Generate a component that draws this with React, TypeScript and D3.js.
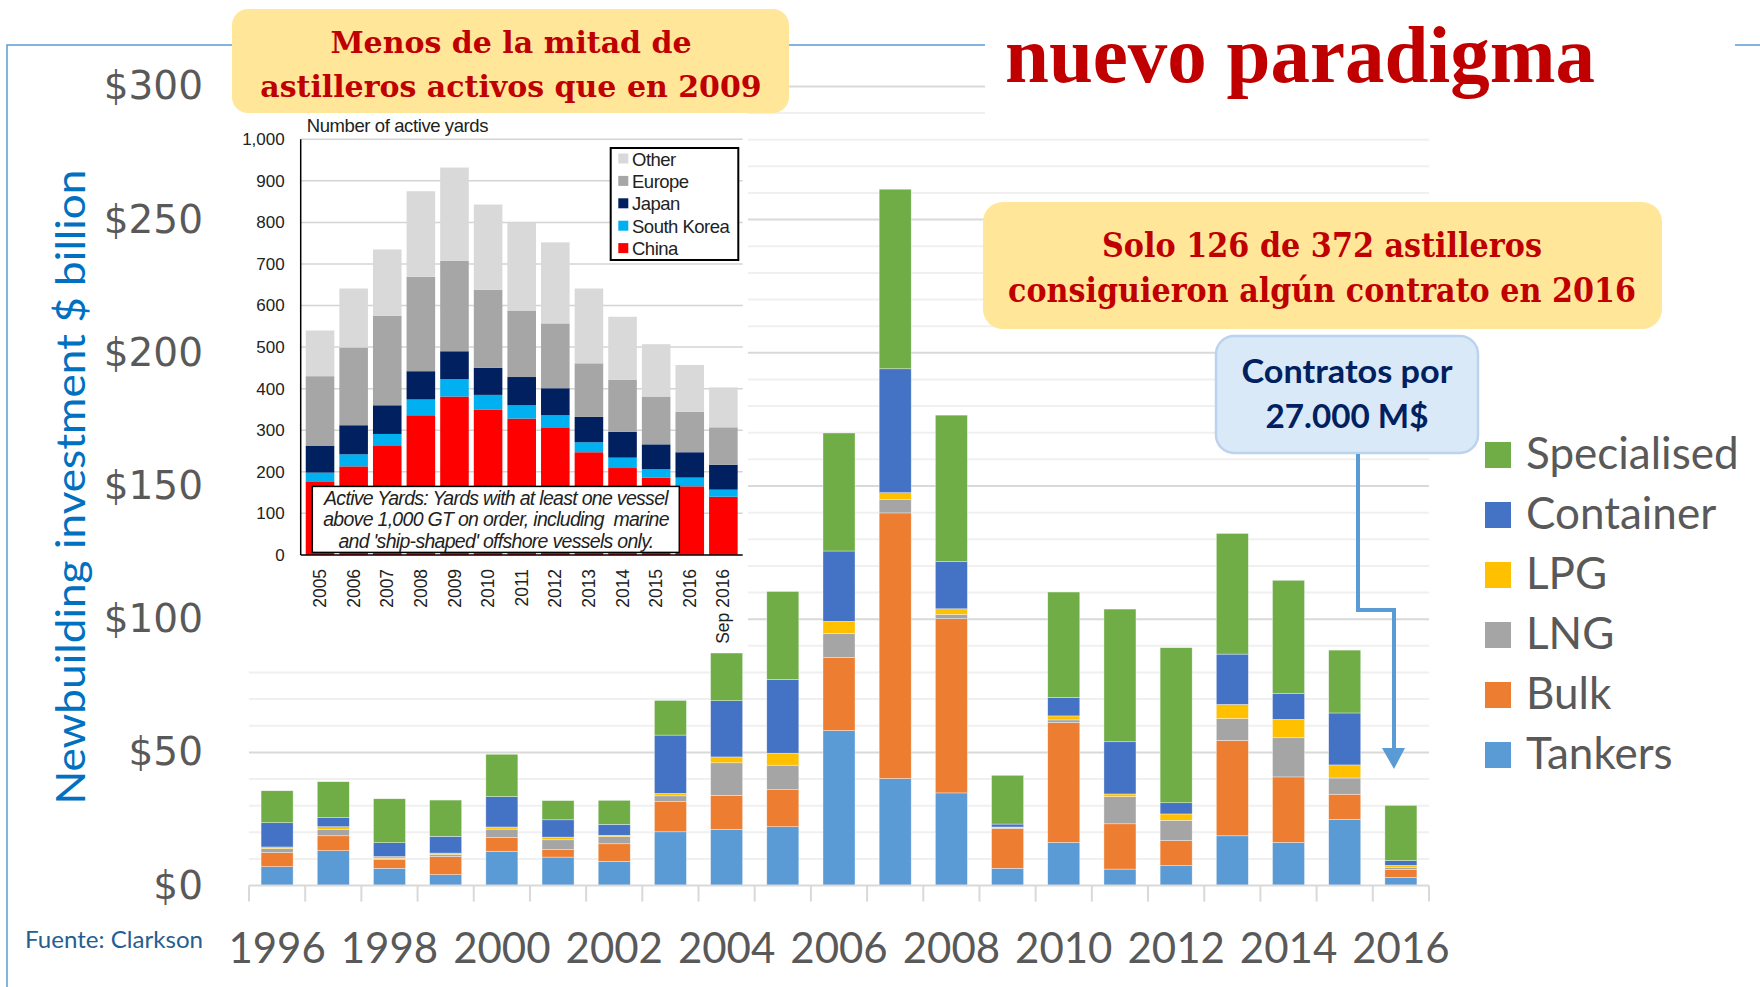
import React, { useEffect, useRef } from "react";
import * as d3 from "d3";

// main chart: newbuilding investment, $ billion
const years = ["1996", "1997", "1998", "1999", "2000", "2001", "2002", "2003", "2004", "2005", "2006",
    "2007", "2008", "2009", "2010", "2011", "2012", "2013", "2014", "2015", "2016"];
const tankers = [7.1, 13.1, 6.5, 4.1, 12.9, 10.7, 9.1, 20.2, 21.1, 22.1, 58.2, 40.2, 34.8, 6.5, 16.2, 6.2, 7.5, 18.7, 16.2, 24.9, 3.1];
const bulk = [5.3, 5.6, 3.4, 6.8, 5.1, 2.8, 6.6, 11.3, 12.8, 13.9, 27.4, 99.7, 65.4, 15.0, 45.0, 17.0, 9.4, 35.8, 24.6, 9.4, 2.9];
const lng = [1.5, 2.3, 0.3, 0.8, 3.2, 3.7, 2.7, 2.2, 12.2, 9.2, 9.0, 5.0, 1.6, 0.2, 1.0, 10.2, 7.6, 8.2, 14.7, 6.1, 0.9];
const lpg = [0.6, 1.1, 0.7, 0.5, 0.8, 1.0, 0.5, 0.9, 2.2, 4.5, 4.6, 2.6, 2.1, 0.3, 1.5, 1.0, 2.4, 5.3, 6.9, 4.9, 0.7];
const container = [9.1, 3.4, 5.2, 6.3, 11.4, 6.5, 4.1, 21.9, 21.1, 27.7, 26.4, 46.5, 17.7, 1.1, 6.9, 19.6, 4.2, 18.9, 9.8, 19.5, 1.8];
const specialised = [12.0, 13.5, 16.5, 13.6, 15.9, 7.2, 9.0, 13.0, 17.9, 33.0, 44.3, 67.4, 55.0, 18.3, 39.6, 49.8, 58.2, 45.3, 42.4, 23.6, 20.7];
const yTicks = [0, 50, 100, 150, 200, 250, 300];

// inset: number of active yards
const insetYears = ["2005", "2006", "2007", "2008", "2009", "2010", "2011", "2012", "2013", "2014", "2015", "2016", "Sep 2016"];
const china = [177, 213, 262, 336, 381, 349, 328, 307, 247, 209, 186, 165, 140];
const southKorea = [21, 29, 29, 38, 42, 36, 32, 29, 24, 25, 20, 21, 17];
const japan = [65, 70, 69, 68, 67, 65, 68, 65, 61, 62, 60, 61, 60];
const europe = [167, 187, 215, 227, 218, 188, 160, 156, 129, 125, 115, 97, 90];
const other = [110, 142, 160, 206, 224, 205, 211, 195, 180, 152, 126, 113, 96];
const insetTicks = [0, 100, 200, 300, 400, 500, 600, 700, 800, 900, 1000];

const mainSeries = [
    { key: "tankers", label: "Tankers", color: "#5B9BD5", values: tankers },
    { key: "bulk", label: "Bulk", color: "#ED7D31", values: bulk },
    { key: "lng", label: "LNG", color: "#A5A5A5", values: lng },
    { key: "lpg", label: "LPG", color: "#FFC000", values: lpg },
    { key: "container", label: "Container", color: "#4472C4", values: container },
    { key: "specialised", label: "Specialised", color: "#70AD47", values: specialised },
];

const insetSeries = [
    { key: "china", label: "China", color: "#FF0000", values: china },
    { key: "southKorea", label: "South Korea", color: "#00B0F0", values: southKorea },
    { key: "japan", label: "Japan", color: "#002060", values: japan },
    { key: "europe", label: "Europe", color: "#A6A6A6", values: europe },
    { key: "other", label: "Other", color: "#D9D9D9", values: other },
];

const SANS = "Lato, 'Open Sans', sans-serif";
const ARIAL = "'Liberation Sans', Arial, sans-serif";
const SERIF = "'DejaVu Serif', serif";

const App: React.FC = () => {
    const svgRef = useRef<SVGSVGElement>(null);

    useEffect(() => {
        if (!svgRef.current) return;
        const svg = d3.select(svgRef.current);
        svg.selectAll("*").remove();

        // slide frame line
        svg.append("path")
            .attr("d", "M7,987V45H1760")
            .attr("fill", "none")
            .attr("stroke", "#5B9BD5")
            .attr("stroke-width", 1.5);

        const left = 249, right = 1429;
        const x = d3.scaleBand<string>().domain(years).range([left, right]).paddingInner(0.43).paddingOuter(0.215);
        const y = d3.scaleLinear().domain([0, 300]).range([885.6, 86.4]);

        // gridlines every $10, darker every $50
        svg.append("g")
            .selectAll("line")
            .data(y.ticks(30).filter(d => d > 0))
            .join("line")
            .attr("x1", left).attr("x2", right)
            .attr("y1", d => y(d)).attr("y2", d => y(d))
            .attr("stroke", d => d % 50 === 0 ? "#D9D9D9" : "#F0F0F0")
            .attr("stroke-width", 2);

        const rows = years.map((yr, i) => {
            const r: any = { year: yr };
            mainSeries.forEach(s => { r[s.key] = s.values[i]; });
            return r;
        });
        const stacked = d3.stack<any>().keys(mainSeries.map(s => s.key))(rows);

        svg.append("g")
            .selectAll("g")
            .data(stacked)
            .join("g")
            .attr("fill", (_, i) => mainSeries[i].color)
            .selectAll("rect")
            .data(d => d)
            .join("rect")
            .attr("x", d => x(d.data.year) as number)
            .attr("y", d => y(d[1]))
            .attr("width", x.bandwidth())
            .attr("height", d => Math.max(0, y(d[0]) - y(d[1])))
            .attr("stroke", "#ffffff")
            .attr("stroke-width", 0.6)
            .attr("stroke-opacity", 0.6);

        // baseline and category separators
        const gap = (x.step() - x.bandwidth()) / 2;
        const bounds = years.map(yr => (x(yr) as number) - gap).concat([right]);
        svg.append("line")
            .attr("x1", left).attr("x2", right)
            .attr("y1", y(0)).attr("y2", y(0))
            .attr("stroke", "#D9D9D9").attr("stroke-width", 2);
        svg.append("g")
            .selectAll("line")
            .data(bounds)
            .join("line")
            .attr("x1", d => d).attr("x2", d => d)
            .attr("y1", y(0)).attr("y2", y(0) + 16)
            .attr("stroke", "#D9D9D9").attr("stroke-width", 2);

        // x labels, every other year
        const xAxis = svg.append("g")
            .attr("transform", `translate(0,${y(0)})`)
            .call(d3.axisBottom(x).tickValues(years.filter((_, i) => i % 2 === 0)).tickSize(0).tickPadding(48));
        xAxis.select(".domain").remove();
        xAxis.selectAll("text")
            .attr("font-family", SANS)
            .attr("font-size", 42)
            .attr("fill", "#595959");

        // y labels
        const yAxis = svg.append("g")
            .attr("transform", `translate(${left},0)`)
            .call(d3.axisLeft(y).tickValues(yTicks).tickSize(0).tickPadding(46).tickFormat(d => `$${d}`));
        yAxis.select(".domain").remove();
        yAxis.selectAll("text")
            .attr("font-family", "'DejaVu Sans', sans-serif")
            .attr("font-size", 39)
            .attr("fill", "#595959");

        // ---------- inset: active yards ----------
        const inset = svg.append("g");
        inset.append("rect")
            .attr("x", 236).attr("y", 112).attr("width", 512).attr("height", 536)
            .attr("fill", "#ffffff");

        const ix = d3.scaleBand<string>().domain(insetYears).range([300.7, 742.7]).padding(0.15);
        const iy = d3.scaleLinear().domain([0, 1000]).range([554.9, 139.3]);

        inset.append("g")
            .selectAll("line")
            .data(insetTicks.filter(d => d > 0))
            .join("line")
            .attr("x1", 300.7).attr("x2", 742.7)
            .attr("y1", d => iy(d)).attr("y2", d => iy(d))
            .attr("stroke", "#D4D4D4").attr("stroke-width", 1.5);

        const iRows = insetYears.map((yr, i) => {
            const r: any = { year: yr };
            insetSeries.forEach(s => { r[s.key] = s.values[i]; });
            return r;
        });
        const iStacked = d3.stack<any>().keys(insetSeries.map(s => s.key))(iRows);
        inset.append("g")
            .selectAll("g")
            .data(iStacked)
            .join("g")
            .attr("fill", (_, i) => insetSeries[i].color)
            .selectAll("rect")
            .data(d => d)
            .join("rect")
            .attr("x", d => ix(d.data.year) as number)
            .attr("y", d => iy(d[1]))
            .attr("width", ix.bandwidth())
            .attr("height", d => iy(d[0]) - iy(d[1]));

        // inset axes
        inset.append("line")
            .attr("x1", 300.7).attr("x2", 300.7).attr("y1", iy(1000)).attr("y2", iy(0))
            .attr("stroke", "#000").attr("stroke-width", 1.5);
        inset.append("line")
            .attr("x1", 300.7).attr("x2", 742.7).attr("y1", iy(0)).attr("y2", iy(0))
            .attr("stroke", "#000").attr("stroke-width", 1.5);

        const iyAxis = inset.append("g")
            .attr("transform", "translate(300.7,0)")
            .call(d3.axisLeft(iy).tickValues(insetTicks).tickSize(0).tickPadding(16).tickFormat(d3.format(",")));
        iyAxis.select(".domain").remove();
        iyAxis.selectAll("text")
            .attr("font-family", ARIAL)
            .attr("font-size", 17)
            .attr("fill", "#222");

        inset.append("g")
            .selectAll("text")
            .data(insetYears)
            .join("text")
            .attr("transform", d => `translate(${(ix(d) as number) + ix.bandwidth() / 2},${iy(0) + 14}) rotate(-90)`)
            .attr("text-anchor", "end")
            .attr("dy", "0.35em")
            .attr("font-family", ARIAL)
            .attr("font-size", 17.5)
            .attr("fill", "#222")
            .text(d => d);

        inset.append("text")
            .attr("x", 306.7).attr("y", 132)
            .attr("font-family", ARIAL)
            .attr("font-size", 18.5)
            .attr("letter-spacing", -0.4)
            .attr("fill", "#222")
            .text("Number of active yards");

        // inset legend
        const iLeg = inset.append("g");
        iLeg.append("rect")
            .attr("x", 610.7).attr("y", 148).attr("width", 127.6).attr("height", 112)
            .attr("fill", "#fff").attr("stroke", "#000").attr("stroke-width", 2);
        const iLegItems = [...insetSeries].reverse();
        iLegItems.forEach((s, i) => {
            const ty = 165.5 + i * 22.4;
            iLeg.append("rect")
                .attr("x", 618.3).attr("y", ty - 12).attr("width", 10).attr("height", 10)
                .attr("fill", s.color);
            iLeg.append("text")
                .attr("x", 632).attr("y", ty)
                .attr("font-family", ARIAL)
                .attr("font-size", 18.5)
                .attr("letter-spacing", -0.5)
                .attr("fill", "#222")
                .text(s.label);
        });

        // inset definition note
        const note = inset.append("g");
        note.append("rect")
            .attr("x", 312.3).attr("y", 486.4).attr("width", 367).attr("height", 66)
            .attr("fill", "#fff").attr("stroke", "#000").attr("stroke-width", 1.5);
        ["Active Yards: Yards with at least one vessel",
         "above 1,000 GT on order, including  marine",
         "and 'ship-shaped' offshore vessels only."].forEach((line, i) => {
            note.append("text")
                .attr("x", 496).attr("y", 504.5 + i * 21.5)
                .attr("text-anchor", "middle")
                .attr("font-family", ARIAL)
                .attr("font-style", "italic")
                .attr("font-size", 19.5)
                .attr("letter-spacing", -0.7)
                .attr("fill", "#222")
                .attr("xml:space", "preserve")
                .text(line);
        });

        // ---------- headline and callouts ----------
        svg.append("rect")
            .attr("x", 985).attr("y", 20).attr("width", 750).attr("height", 105)
            .attr("fill", "#fff");
        svg.append("text")
            .attr("x", 1005).attr("y", 82)
            .attr("font-family", "'Liberation Serif', serif")
            .attr("font-weight", "bold")
            .attr("font-size", 80)
            .attr("fill", "#C00000")
            .attr("textLength", 590)
            .attr("lengthAdjust", "spacingAndGlyphs")
            .text("nuevo paradigma");

        const box1 = svg.append("g");
        box1.append("rect")
            .attr("x", 232).attr("y", 9).attr("width", 557).attr("height", 104).attr("rx", 16)
            .attr("fill", "#FFE699");
        ["Menos de la mitad de", "astilleros activos que en 2009"].forEach((line, i) => {
            box1.append("text")
                .attr("x", 511).attr("y", 53 + i * 44)
                .attr("text-anchor", "middle")
                .attr("font-family", SERIF)
                .attr("font-weight", "bold")
                .attr("font-size", 30)
                .attr("fill", "#C00000")
                .text(line);
        });

        const box2 = svg.append("g");
        box2.append("rect")
            .attr("x", 983).attr("y", 202).attr("width", 679).attr("height", 127).attr("rx", 20)
            .attr("fill", "#FFE699");
        [["Solo 126 de 372 astilleros", 440], ["consiguieron algún contrato en 2016", 628]].forEach(([line, len], i) => {
            box2.append("text")
                .attr("x", 1322).attr("y", 257 + i * 45)
                .attr("text-anchor", "middle")
                .attr("font-family", SERIF)
                .attr("font-weight", "bold")
                .attr("font-size", 34)
                .attr("fill", "#C00000")
                .attr("textLength", len as number)
                .attr("lengthAdjust", "spacingAndGlyphs")
                .text(line as string);
        });

        const box3 = svg.append("g");
        box3.append("rect")
            .attr("x", 1216).attr("y", 336).attr("width", 262).attr("height", 117).attr("rx", 18)
            .attr("fill", "#DAE9F8").attr("stroke", "#BCD3EE").attr("stroke-width", 2.5);
        [["Contratos por", 211], ["27.000 M$", 163]].forEach(([line, len], i) => {
            box3.append("text")
                .attr("x", 1347).attr("y", 383 + i * 45)
                .attr("text-anchor", "middle")
                .attr("font-family", SANS)
                .attr("font-weight", "bold")
                .attr("font-size", 32)
                .attr("fill", "#002060")
                .attr("textLength", len as number)
                .attr("lengthAdjust", "spacingAndGlyphs")
                .text(line as string);
        });

        // arrow to the 2016 bar
        svg.append("path")
            .attr("d", "M1358,454V610H1394V752")
            .attr("fill", "none")
            .attr("stroke", "#5B9BD5")
            .attr("stroke-width", 4);
        svg.append("path")
            .attr("d", "M1382,748L1405,748L1394,769Z")
            .attr("fill", "#5B9BD5");

        // legend
        const legend = svg.append("g");
        [...mainSeries].reverse().forEach((s, i) => {
            const top = 442 + i * 60;
            legend.append("rect")
                .attr("x", 1485).attr("y", top).attr("width", 26).attr("height", 26)
                .attr("fill", s.color);
            legend.append("text")
                .attr("x", 1526).attr("y", top + 27)
                .attr("font-family", SANS)
                .attr("font-size", 44)
                .attr("fill", "#595959")
                .text(s.label);
        });

        // y axis title
        svg.append("text")
            .attr("transform", "translate(85,487) rotate(-90)")
            .attr("text-anchor", "middle")
            .attr("font-family", SANS)
            .attr("font-size", 40)
            .attr("fill", "#0070C0")
            .attr("textLength", 635)
            .attr("lengthAdjust", "spacingAndGlyphs")
            .text("Newbuilding investment $ billion");

        svg.append("text")
            .attr("x", 25).attr("y", 948)
            .attr("font-family", SANS)
            .attr("font-size", 24)
            .attr("fill", "#255E91")
            .attr("textLength", 178)
            .attr("lengthAdjust", "spacingAndGlyphs")
            .text("Fuente: Clarkson");
    }, []);

    return (
        <svg
            ref={svgRef}
            width={1760}
            height={987}
            style={{ position: "absolute", left: 0, top: 0, display: "block", background: "#fff" }}
        />
    );
};

export default App;
